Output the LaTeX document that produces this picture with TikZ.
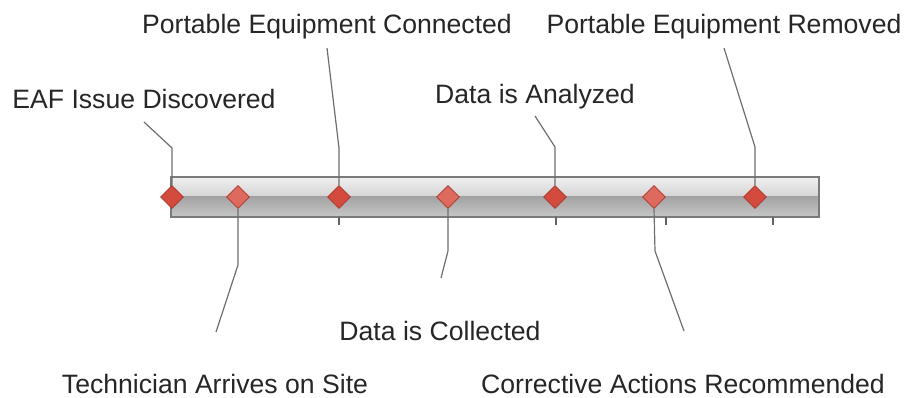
\documentclass[tikz,border=0pt]{standalone}
\usepackage{fontspec}
\setmainfont{Liberation Sans}
\usetikzlibrary{shapes.geometric}

\definecolor{evred}{HTML}{D24B3D}
\definecolor{evpink}{HTML}{DE6A5E}
\definecolor{evedge}{HTML}{A8362B}
\definecolor{leadgray}{HTML}{6E6E6E}
\definecolor{barline}{HTML}{7A7A7A}

\begin{document}
\begin{tikzpicture}[x=1pt,y=-1pt,
    event/.style={diamond,draw=evedge,fill=evred,minimum size=23pt,inner sep=0pt,line width=0.8pt},
    lightevent/.style={event,fill=evpink},
    evtext/.style={anchor=base,inner sep=0pt,text=black!85,font=\fontsize{26.6}{30}\selectfont},
    leader/.style={draw=leadgray,line width=1.2pt},
    tick/.style={draw=barline!80!black,line width=1.2pt}]
  \useasboundingbox (0,0) rectangle (905,398);

  % time bar
  \shade[top color=white!94!black,bottom color=black!17] (171,177) rectangle (819,197);
  \shade[top color=black!36,bottom color=black!22] (171,197) rectangle (819,217);
  \draw[barline,line width=1.2pt] (171,177) rectangle (819,217);
  \foreach \x in {339,556,666,773}
    \draw[tick] (\x,217) -- (\x,225);

  % events
  \node[event]      (issue)    at (172,197) {};
  \node[lightevent] (arrive)   at (238,197) {};
  \node[event]      (connect)  at (339,197) {};
  \node[lightevent] (collect)  at (448,197) {};
  \node[event]      (analyze)  at (555,197) {};
  \node[lightevent] (action)   at (654,197) {};
  \node[event]      (remove)   at (755,197) {};

  % captions
  \node[evtext] (t-issue)   at (144,109) {EAF Issue Discovered};
  \node[evtext] (t-arrive)  at (215,393) {Technician Arrives on Site};
  \node[evtext] (t-connect) at (327,34)  {Portable Equipment Connected};
  \node[evtext] (t-collect) at (440,340) {Data is Collected};
  \node[evtext] (t-analyze) at (535,104) {Data is Analyzed};
  \node[evtext] (t-action)  at (683,393) {Corrective Actions Recommended};
  \node[evtext] (t-remove)  at (724,34)  {Portable Equipment Removed};

  % leaders
  \coordinate (e-issue)   at (144,122);
  \coordinate (e-arrive)  at (216,332);
  \coordinate (e-connect) at (327,48);
  \coordinate (e-collect) at (441,278);
  \coordinate (e-analyze) at (535,116);
  \coordinate (e-action)  at (684,331);
  \coordinate (e-remove)  at (724,48);

  \draw[leader] (issue.north)   -- (172,148) -- (e-issue);
  \draw[leader] (arrive.south)  -- (238,265) -- (e-arrive);
  \draw[leader] (connect.north) -- (339,148) -- (e-connect);
  \draw[leader] (collect.south) -- (448,251) -- (e-collect);
  \draw[leader] (analyze.north) -- (555,147) -- (e-analyze);
  \draw[leader] (action.south)  -- (655,251) -- (e-action);
  \draw[leader] (remove.north)  -- (755,147) -- (e-remove);
\end{tikzpicture}
\end{document}
